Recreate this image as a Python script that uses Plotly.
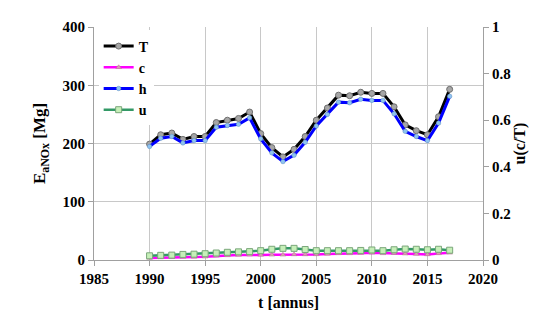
import plotly.graph_objects as go

years = list(range(1990, 2018))
T = [199, 215, 218, 207, 212, 212, 236, 240, 243, 254, 217, 193, 177, 190, 212, 240,
     261, 283, 282, 288, 286, 286, 263, 232, 222, 215, 246, 293]
c = [3.6, 4.3, 4.6, 5.0, 5.3, 5.7, 7.1, 7.9, 8.5, 9.1, 8.7, 8.9, 8.9, 9.5, 9.5, 9.6,
     10.4, 11.3, 11.3, 11.8, 12.3, 11.4, 11.6, 10.9, 10.2, 9.5, 11.3, 12.3]
h = [195, 209, 212, 201, 205, 205, 228, 231, 233, 244, 208, 184, 169, 180, 202, 230,
     250, 271, 270, 276, 274, 274, 251, 221, 212, 205, 235, 281]
u = [0.018, 0.020, 0.021, 0.024, 0.025, 0.027, 0.030, 0.033, 0.035, 0.036, 0.040, 0.046,
     0.050, 0.050, 0.045, 0.040, 0.040, 0.040, 0.040, 0.041, 0.043, 0.040, 0.044, 0.047,
     0.046, 0.044, 0.046, 0.042]

x_ticks = [1985, 1990, 1995, 2000, 2005, 2010, 2015, 2020]
y_ticks = [0, 100, 200, 300, 400]
y2_ticks = [0, 0.2, 0.4, 0.6, 0.8, 1]
y2_labels = ["0", "0.2", "0.4", "0.6", "0.8", "1"]

font = "Liberation Serif"
fig = go.Figure()
fig.add_trace(go.Scatter(x=years, y=T, name="<b>T</b>", mode="lines+markers",
                         line=dict(color="black", width=3),
                         marker=dict(symbol="circle", size=6, color="#a6a6a6",
                                     line=dict(color="#6e6e6e", width=1))))
fig.add_trace(go.Scatter(x=years, y=c, name="<b>c</b>", mode="lines+markers",
                         line=dict(color="#ff00ff", width=2.5),
                         marker=dict(symbol="triangle-up", size=5, color="#d9a0b0",
                                     line=dict(color="#b07090", width=0.5))))
fig.add_trace(go.Scatter(x=years, y=h, name="<b>h</b>", mode="lines+markers",
                         line=dict(color="#0000ff", width=3),
                         marker=dict(symbol="circle", size=4.5, color="#8fc4f0",
                                     line=dict(color="#5a8ac0", width=0.5))))
fig.add_trace(go.Scatter(x=years, y=u, name="<b>u</b>", mode="lines+markers", yaxis="y2",
                         line=dict(color="#339966", width=2.5),
                         marker=dict(symbol="square", size=6, color="#c6efb8",
                                     line=dict(color="#7aa77a", width=1))))

axis_common = dict(showline=True, linecolor="#a0a0a0", linewidth=1,
                   ticks="outside", ticklen=5, tickcolor="#a0a0a0",
                   tickfont=dict(family=font, size=15, color="black"),
                   zeroline=False, automargin=False)

fig.update_layout(
    width=542, height=322,
    margin=dict(l=86, r=67, t=19, b=70),
    paper_bgcolor="white", plot_bgcolor="white",
    font=dict(family=font, color="black"),
    showlegend=True,
    legend=dict(x=0.012, y=0.985, xanchor="left", yanchor="top",
                bgcolor="white", font=dict(family=font, size=14, color="black"),
                itemwidth=30, tracegroupgap=0),
    xaxis=dict(range=[1985, 2020], tickvals=x_ticks,
               ticktext=[f"<b>{v}</b>" for v in x_ticks],
               showgrid=True, gridcolor="#c8c8c8", gridwidth=1,
               title=dict(text="<b>t [annus]</b>", font=dict(family=font, size=16), standoff=10),
               **axis_common),
    yaxis=dict(range=[0, 400], tickvals=y_ticks,
               ticktext=[f"<b>{v}</b>" for v in y_ticks],
               showgrid=True, gridcolor="#c8c8c8", gridwidth=1,
               title=dict(text="<b>E<sub>aNOx</sub> [Mg]</b>", font=dict(family=font, size=17), standoff=12),
               **axis_common),
    yaxis2=dict(range=[0, 1], tickvals=y2_ticks,
                ticktext=[f"<b>{v}</b>" for v in y2_labels],
                overlaying="y", side="right", showgrid=False,
                title=dict(text="<b>u(c/T)</b>", font=dict(family=font, size=16), standoff=2),
                **axis_common),
)

fig.write_html("out.html")
